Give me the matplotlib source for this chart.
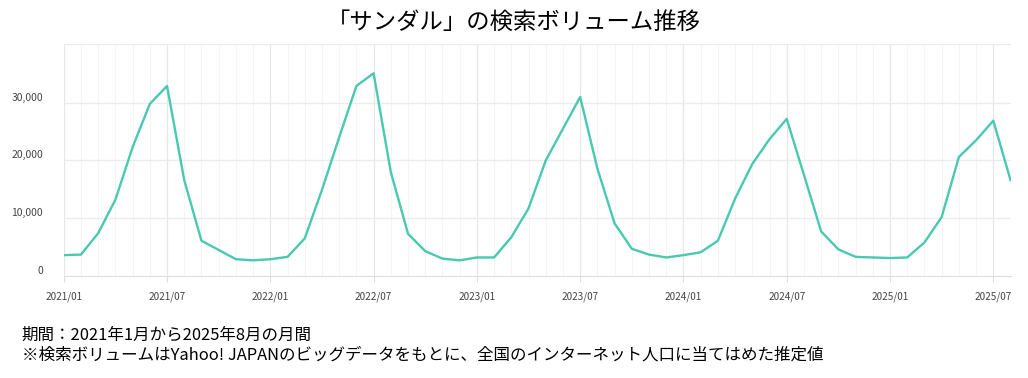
import matplotlib.pyplot as plt
import numpy as np

plt.rcParams['font.family'] = ['Noto Sans CJK JP', 'DejaVu Sans']

# monthly search volume, 2021/01 .. 2025/08
volume = [
    3600, 3700, 7400, 13200, 22300, 29800, 32900, 16600, 6100, 4500, 2900, 2700,
    2900, 3300, 6500, 14900, 24000, 32900, 35100, 18000, 7300, 4300, 3000, 2700,
    3200, 3200, 6700, 11700, 20000, 25500, 31000, 18600, 9100, 4700, 3700, 3200,
    3600, 4100, 6100, 13400, 19400, 23700, 27200, 17500, 7700, 4600, 3300, 3200,
    3100, 3200, 5800, 10200, 20600, 23500, 26900, 16600,
]
tick_labels = ["2021/01", "2021/07", "2022/01", "2022/07", "2023/01",
               "2023/07", "2024/01", "2024/07", "2025/01", "2025/07"]
y_ticks = [0, 10000, 20000, 30000]

title = "「サンダル」の検索ボリューム推移"
note1 = "期間：2021年1月から2025年8月の月間"
note2 = "※検索ボリュームはYahoo! JAPANのビッグデータをもとに、全国のインターネット人口に当てはめた推定値"

months = np.arange(len(volume))

fig = plt.figure(figsize=(10.28, 3.78), dpi=100)
ax = fig.add_axes([0.062, 0.270, 0.921, 0.614])

# faint monthly grid, slightly stronger every 6 months
for m in months:
    ax.axvline(m, color="#f4f4f4", lw=0.8, zorder=0)
for m in range(0, len(volume), 6):
    ax.axvline(m, color="#e6e6e6", lw=0.8, zorder=0)
for v in y_ticks[1:] + [40200]:
    ax.axhline(v, color="#ececec", lw=1.0, zorder=0)

ax.plot(months, volume, color="#48c9b0", lw=1.7, zorder=3)

ax.set_xlim(0, len(volume) - 1)
ax.set_ylim(0, 40200)
ax.set_xticks(range(0, len(volume), 6))
ax.set_xticklabels(tick_labels, fontsize=7.2, color="#444444")
ax.set_yticks(y_ticks)
ax.set_yticklabels([f"{v:,}" for v in y_ticks], fontsize=7.5, color="#444444", va="bottom")
ax.tick_params(axis="x", length=4, color="#dddddd", pad=7)
ax.tick_params(axis="y", length=0, pad=15)

for s in ["top", "right", "left"]:
    ax.spines[s].set_visible(False)
ax.spines["bottom"].set_color("#dddddd")

fig.text(0.5, 0.942, title, ha="center", va="center", fontsize=16.8)
fig.text(0.021, 0.114, note1, ha="left", va="center", fontsize=11.9)
fig.text(0.021, 0.060, note2, ha="left", va="center", fontsize=11.9)

fig.savefig("out.png", dpi=100)
